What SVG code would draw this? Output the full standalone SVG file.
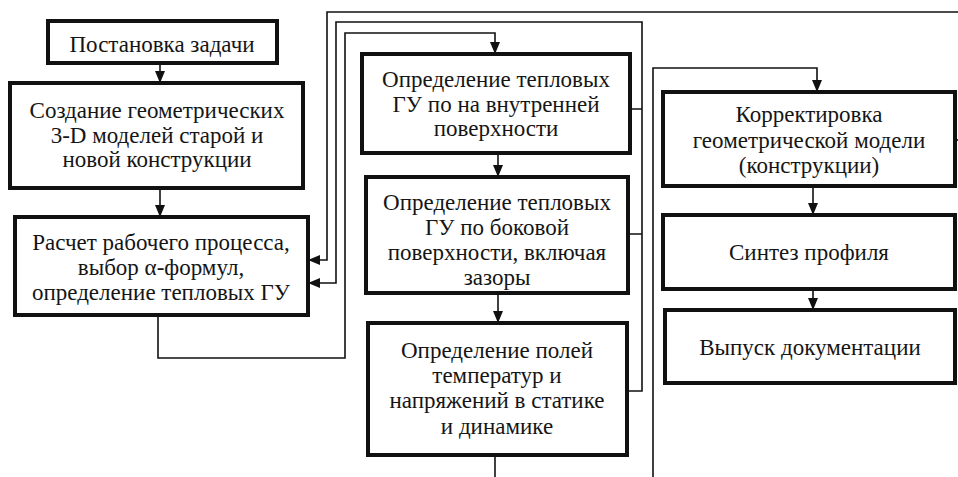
<svg xmlns="http://www.w3.org/2000/svg" width="958" height="477" viewBox="0 0 958 477">
<defs>
<style>
.box{fill:#fff;stroke:#111;stroke-width:4}
.t{font-family:"Liberation Serif","Times New Roman",serif;font-size:23px;fill:#151515;text-anchor:middle}
.c{fill:none;stroke:#111;stroke-width:1.6}
</style>
<marker id="ah" markerUnits="userSpaceOnUse" markerWidth="12" markerHeight="12" viewBox="0 0 12 12" refX="12" refY="6" orient="auto">
<path d="M0,1 L12,6 L0,11 Z" fill="#111"/>
</marker>
</defs>
<rect width="958" height="477" fill="#fff"/>
<g id="connectors">
<path class="c" d="M160,63 V83" marker-end="url(#ah)"/>
<path class="c" d="M160,188 V217" marker-end="url(#ah)"/>
<path class="c" d="M158,315 V358 H345 V33 H495 V54" marker-end="url(#ah)"/>
<path class="c" d="M630,109 H642 M628,234 H642"/>
<path class="c" d="M627,391 H642 V22 H336 V283 H308" marker-end="url(#ah)"/>
<path class="c" d="M958,12 H327 V260 H308" marker-end="url(#ah)"/>
<path class="c" d="M498,153 V177" marker-end="url(#ah)"/>
<path class="c" d="M498,293 V323" marker-end="url(#ah)"/>
<path class="c" d="M495,455 V477"/>
<path class="c" d="M653,477 V68 H817 V92" marker-end="url(#ah)"/>
<path class="c" d="M955,140 H958"/>
<path class="c" d="M813,186 V215" marker-end="url(#ah)"/>
<path class="c" d="M813,289 V310" marker-end="url(#ah)"/>
</g>
<g id="n1"><rect class="box" x="48" y="21" width="229" height="42"/>
<text class="t" x="162" y="52">Постановка задачи</text></g>
<g id="n2"><rect class="box" x="10" y="83" width="293" height="105"/>
<text class="t" x="157" y="118">Создание геометрических</text>
<text class="t" x="157" y="143">3-D моделей старой и</text>
<text class="t" x="157" y="167">новой конструкции</text></g>
<g id="n3"><rect class="box" x="15" y="217" width="293" height="98"/>
<text class="t" x="161" y="250">Расчет рабочего процесса,</text>
<text class="t" x="161" y="275">выбор α-формул,</text>
<text class="t" x="161" y="300">определение тепловых ГУ</text></g>
<g id="c1"><rect class="box" x="362" y="54" width="268" height="99"/>
<text class="t" x="496" y="87">Определение тепловых</text>
<text class="t" x="496" y="112">ГУ по на внутренней</text>
<text class="t" x="496" y="136">поверхности</text></g>
<g id="c2"><rect class="box" x="366" y="177" width="262" height="116"/>
<text class="t" x="497" y="210">Определение тепловых</text>
<text class="t" x="497" y="235">ГУ по боковой</text>
<text class="t" x="497" y="260">поверхности, включая</text>
<text class="t" x="497" y="285">зазоры</text></g>
<g id="c3"><rect class="box" x="368" y="323" width="259" height="132"/>
<text class="t" x="497" y="358">Определение полей</text>
<text class="t" x="497" y="383">температур и</text>
<text class="t" x="497" y="408">напряжений в статике</text>
<text class="t" x="497" y="434">и динамике</text></g>
<g id="r1"><rect class="box" x="663" y="92" width="292" height="94"/>
<text class="t" x="809" y="122">Корректировка</text>
<text class="t" x="809" y="148">геометрической модели</text>
<text class="t" x="809" y="173">(конструкции)</text></g>
<g id="r2"><rect class="box" x="663" y="215" width="292" height="74"/>
<text class="t" x="809" y="260">Синтез профиля</text></g>
<g id="r3"><rect class="box" x="665" y="310" width="290" height="73"/>
<text class="t" x="810" y="355">Выпуск документации</text></g>
</svg>
